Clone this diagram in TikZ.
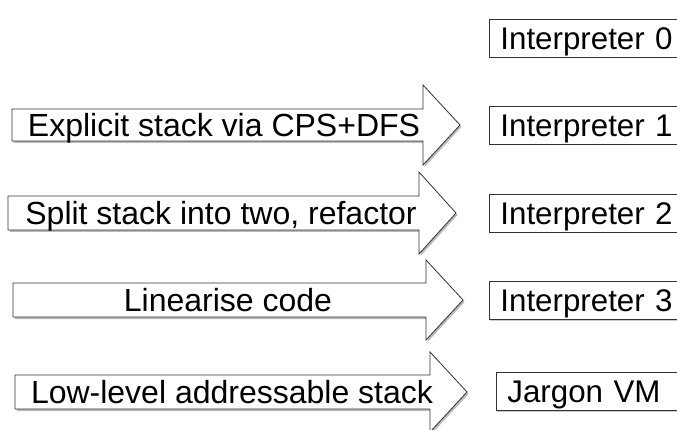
\documentclass[tikz,border=0pt]{standalone}
\usepackage{fontspec}
\setmainfont{Liberation Sans}
\usetikzlibrary{shadows}
\tikzset{
  lbl/.style={font=\fontsize{32}{36}\selectfont, text height=23pt, text depth=0pt, inner sep=0pt},
  arrowshape/.style={draw=black!80, line width=0.8pt, fill=white,
    drop shadow={shadow xshift=1.5pt, shadow yshift=-2pt, fill=black!45, opacity=0.6}},
  boxshape/.style={draw=black!80, line width=0.8pt, fill=white,
    font=\fontsize{31.3}{36}\selectfont, text height=22.5pt, text depth=0pt,
    anchor=west, minimum height=38pt, text width=220pt, align=left,
    inner xsep=11pt, inner ysep=0pt,
    drop shadow={shadow xshift=1pt, shadow yshift=-1.5pt, fill=black!40, opacity=0.5}}
}
\newcommand\myarrow[6]{%
  \path[arrowshape] (#1,#4-#5) -- (#2,#4-#5) -- (#2,#4-#6) -- (#3,#4)
    -- (#2,#4+#6) -- (#2,#4+#5) -- (#1,#4+#5) -- cycle;}
\begin{document}
\begin{tikzpicture}[x=1pt,y=-1pt]
\path[use as bounding box] (0,0) rectangle (677,430);
\clip (0,0) rectangle (677,430);

% boxes
\node[boxshape] (i0) at (489,38)  {Interpreter 0};
\node[boxshape] (i1) at (489,125) {Interpreter 1};
\node[boxshape] (i2) at (489,213) {Interpreter 2};
\node[boxshape] (i3) at (489,300) {Interpreter 3};
\node[boxshape, text width=214pt] (i4) at (496,391) {Jargon VM};

% arrows
\myarrow{12}{423}{460}{125}{16}{40}
\node[lbl] (a1) at (224,125) {Explicit stack via CPS+DFS};

\myarrow{8}{419}{456}{213}{17}{41}
\node[lbl] (a2) at (221,213) {Split stack into two, refactor};

\myarrow{13}{426}{463}{300}{17}{40}
\node[lbl] (a3) at (228,300) {Linearise code};

\myarrow{15}{430}{467}{392}{17}{40}
\node[lbl] (a4) at (232,392) {Low-level addressable stack};
\end{tikzpicture}
\end{document}
